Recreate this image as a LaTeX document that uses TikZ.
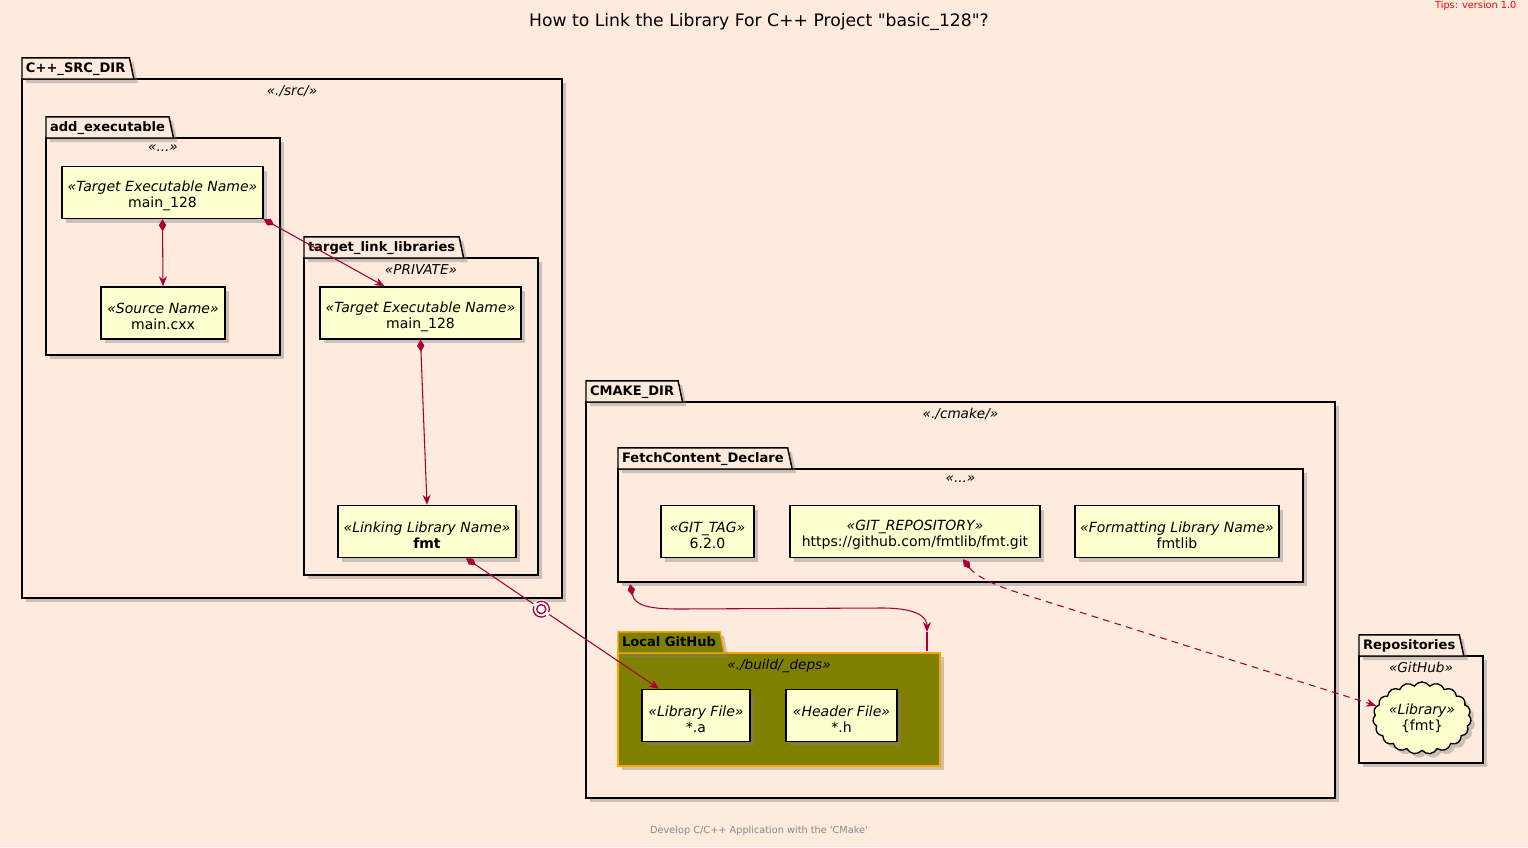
\documentclass[tikz,border=0pt]{standalone}
\usepackage{fontspec}
\setmainfont{DejaVu Sans}
\usetikzlibrary{shapes, arrows.meta, positioning, calc, shadows, fit}

\definecolor{pagepeach}{RGB}{254, 235, 222}
\definecolor{umlcrimson}{RGB}{168, 0, 54}
\definecolor{notefill}{RGB}{254, 254, 206}
\definecolor{ghOlive}{RGB}{128, 128, 0}
\definecolor{ghOrange}{RGB}{255, 165, 0}
\definecolor{footgray}{RGB}{136, 136, 136}
\definecolor{tipred}{RGB}{255, 0, 0}

% stereotype line of an element, with a little room above it
\newcommand{\stereoline}[1]{\rule{0pt}{13pt}\textit{#1}}

\tikzset{
  softshadow/.style={drop shadow={shadow xshift=3pt, shadow yshift=-3pt, opacity=0.4}},
  pkg/.style={draw, line width=1.1pt, fill=pagepeach, inner sep=0pt, outer sep=0pt, softshadow},
  pkgtab/.style={trapezium, trapezium left angle=90, trapezium right angle=78, draw, line width=1.1pt,
    fill=pagepeach, outer sep=0pt, inner xsep=3pt, inner ysep=2.7pt, text height=8pt, text depth=2.5pt,
    font=\fontsize{9.8}{12}\selectfont\bfseries, softshadow},
  stereo/.style={font=\fontsize{10.2}{12}\selectfont\itshape, inner sep=1pt},
  elem/.style={draw, line width=1.1pt, fill=notefill, align=center, minimum height=39pt,
    font=\fontsize{10.5}{12}\selectfont, softshadow},
  link/.style={draw=umlcrimson, line width=0.8pt},
  owns/.style={link, {Diamond[length=9pt, width=5.5pt]}-{Stealth[length=7.5pt, width=6pt, inset=2.5pt]}}
}

\begin{document}
\begin{tikzpicture}[x=0.75pt, y=-0.75pt]
  \fill[pagepeach] (0,0) rectangle (1528,847);
  \useasboundingbox (0,0) rectangle (1528,847);

  % Title, tips and footer
  \node[font=\fontsize{12.9}{16}\selectfont] (title) at (759,22) {How to Link the Library For C++ Project \textquotedbl basic\_128\textquotedbl ?};
  \node[font=\fontsize{7.3}{9}\selectfont, tipred, anchor=north east, inner sep=1pt] (tips) at (1518,0) {Tips: version 1.0};
  \node[font=\fontsize{7.3}{9}\selectfont, footgray] (footer) at (759,831) {Develop C/C++ Application with the \textquotesingle CMake\textquotesingle};

  % C++ source directory
  \node[pkg, fit={(22,79) (562,598)}] (srcdir) {};
  \node[pkgtab, anchor=bottom left corner] (srcdir-tab) at (srcdir.north west) {C++\_SRC\_DIR};
  \node[stereo, below=3.5pt of srcdir.north] (srcdir-st) {«./src/»};

  \node[pkg, fit={(46,138) (280,355)}] (addexe) {};
  \node[pkgtab, anchor=bottom left corner] (addexe-tab) at (addexe.north west) {add\_executable};
  \node[stereo, below=3.5pt of addexe.north] (addexe-st) {«...»};

  \node[pkg, fit={(304,258) (538,575)}] (tll) {};
  \node[pkgtab, anchor=bottom left corner] (tll-tab) at (tll.north west) {target\_link\_libraries};
  \node[stereo, below=3.5pt of tll.north] (tll-st) {«PRIVATE»};

  \node[elem, minimum width=150.75pt] (exe1) at (162.5,192.5) {\stereoline{«Target Executable Name»}\\main\_128};
  \node[elem, minimum width=93pt] (src) at (163,313) {\stereoline{«Source Name»}\\main.cxx};
  \node[elem, minimum width=150.75pt] (exe2) at (420.5,313) {\stereoline{«Target Executable Name»}\\main\_128};
  \node[elem, minimum width=133.5pt] (fmt) at (427,531.5) {\stereoline{«Linking Library Name»}\\\textbf{fmt}};

  % CMake directory
  \node[pkg, fit={(586,402) (1335,798)}] (cmakedir) {};
  \node[pkgtab, anchor=bottom left corner] (cmakedir-tab) at (cmakedir.north west) {CMAKE\_DIR};
  \node[stereo, below=3.5pt of cmakedir.north] (cmakedir-st) {«./cmake/»};

  \node[pkg, fit={(618,469) (1303,582)}] (fetch) {};
  \node[pkgtab, anchor=bottom left corner] (fetch-tab) at (fetch.north west) {FetchContent\_Declare};
  \node[stereo, below=3.5pt of fetch.north] (fetch-st) {«...»};

  \node[elem, minimum width=69.75pt] (gittag) at (707.5,531.5) {\stereoline{«GIT\_TAG»}\\6.2.0};
  \node[elem, minimum width=187.5pt] (repo) at (915,531.5) {\stereoline{«GIT\_REPOSITORY»}\\https://github.com/fmtlib/fmt.git};
  \node[elem, minimum width=153pt] (fmtlib) at (1177,531.5) {\stereoline{«Formatting Library Name»}\\fmtlib};

  \node[pkg, fill=ghOlive, draw=ghOrange, fit={(618,653) (940,766)}] (localgh) {};
  \node[pkgtab, fill=ghOlive, draw=ghOrange, anchor=bottom left corner] (localgh-tab) at (localgh.north west) {Local GitHub};
  \node[stereo, below=3.5pt of localgh.north] (localgh-st) {«./build/\_deps»};

  \node[elem, minimum width=81pt] (liba) at (696,715.5) {\stereoline{«Library File»}\\*.a};
  \node[elem, minimum width=83.25pt] (libh) at (841.5,715.5) {\stereoline{«Header File»}\\*.h};

  % Repositories
  \node[pkg, fit={(1359,656) (1483,763)}] (repos) {};
  \node[pkgtab, anchor=bottom left corner] (repos-tab) at (repos.north west) {Repositories};
  \node[stereo, below=3.5pt of repos.north] (repos-st) {«GitHub»};
  \node[cloud, cloud puffs=19, cloud puff arc=115, aspect=1.45, draw, line width=1pt, fill=notefill,
    minimum width=62pt, minimum height=42pt, inner sep=0pt, align=center, softshadow,
    font=\fontsize{10.5}{12}\selectfont] (libcloud) at (1422,718) {\textit{«Library»}\\\{fmt\}};

  % Links
  \draw[owns] (exe1.south) -- (src.north);
  \draw[owns] (exe1.south east) -- ($(exe2.north)+(-36,0)$);
  \draw[owns] (exe2.south) -- (fmt.north);

  \coordinate (fmtout) at ($(fmt.south)+(39,0)$);
  \coordinate (libain) at ($(liba.north)+(-37,0)$);
  \coordinate (sock) at ($(fmtout)!0.39!(libain)$);
  \draw[link, {Diamond[length=9pt, width=5.5pt]}-] (fmtout) -- (sock);
  \draw[link, -{Stealth[length=7.5pt, width=6pt, inset=2.5pt]}] (sock) -- (libain);
  \fill[white] (sock) circle[radius=7.2pt];
  \draw[umlcrimson, line width=1pt] (sock) ++(160:6pt) arc[start angle=160, end angle=305, radius=6pt];
  \draw[umlcrimson, line width=1pt] (sock) ++(-20:6pt) arc[start angle=-20, end angle=125, radius=6pt];
  \draw[umlcrimson, line width=1pt, fill=white] (sock) circle[radius=3.4pt];

  \coordinate (fetchout) at ($(fetch.south west)+(12,2)$);
  \coordinate (ghtip) at ($(localgh.north east)+(-13,-21)$);
  \draw[owns] (fetchout) .. controls ($(fetchout)+(5,22)$) and ($(fetchout)+(20,25)$) .. ($(fetchout)+(50,25)$)
    -- ($(ghtip)+(-45,-24)$) .. controls ($(ghtip)+(-10,-24)$) and ($(ghtip)+(0,-15)$) .. (ghtip);
  \draw[link] (ghtip) -- ($(localgh.north east)+(-13,-2)$);

  \coordinate (repoout) at ($(repo.south)+(48,1)$);
  \draw[owns, dash pattern=on 5pt off 4pt] (repoout) .. controls (975,575) and (990,583) .. (1010,590) -- (libcloud.165);
\end{tikzpicture}
\end{document}
